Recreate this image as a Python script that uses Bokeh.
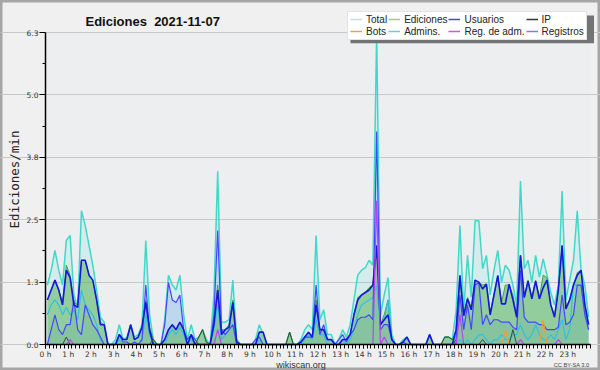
from math import pi
from bokeh.plotting import figure
from bokeh.models import (ColumnDataSource, FixedTicker, PrintfTickFormatter, Legend,
                          LegendItem, Label, Range1d, BoxAnnotation)
from bokeh.embed import file_html
from bokeh.resources import INLINE

# ---- data: edits per minute, 10-minute bins (6 per hour), 2021-11-07 ----
TOTAL = [
    1.2, 1.5, 1.9, 1.5, 1.2, 2.1,
    2.2, 1.0, 0.75, 2.7, 2.4, 2.0,
    1.6, 1.1, 0.55, 0.45, 0, 0,
    0.1, 0.4, 0.1, 0.15, 0.4, 0.15,
    0.2, 0.4, 2.1, 0.6, 0.1, 0,
    0, 0.5, 1.4, 1.2, 1.1, 1.4,
    0.6, 0.1, 0.4, 0.1, 0.15, 0.3,
    0.1, 0, 1.0, 3.5, 0.45, 0.45,
    0.5, 1.3, 0.1, 0, 0, 0,
    0, 0.1, 0.4, 0.2, 0, 0,
    0, 0, 0, 0, 0.25, 0,
    0, 0.1, 0.3, 0.4, 0.3, 2.2,
    0.5, 0.7, 0.2, 0.2, 0, 0.1,
    0.3, 0.15, 0.4, 0.9, 1.4, 1.5,
    1.55, 1.7, 1.6, 6.3, 0.6, 1.0,
    1.35, 0.2, 0, 0, 0.1, 0.15,
    0, 0, 0, 0, 0, 0.2,
    0, 0, 0, 0.15, 0.15, 0.1,
    0.69, 2.4, 0.68, 1.8, 0.95, 2.5,
    2.5, 1.53, 1.8, 1.0, 1.5, 1.9,
    1.26, 1.6, 1.5, 1.2, 0.8, 3.3,
    1.53, 1.7, 1.26, 1.8, 1.36, 1.73,
    1.4, 1.05, 0.8, 1.2, 3.1, 0.9,
    1.3, 1.7, 2.7, 1.5, 1.2, 0.55,
]

EDICIONES = [
    0.9, 1.1, 1.3, 1.1, 0.85, 1.6,
    1.4, 0.85, 0.8, 1.7, 1.7, 1.4,
    1.3, 0.9, 0.45, 0.4, 0, 0,
    0, 0.2, 0.1, 0.1, 0.4, 0.1,
    0.15, 0.35, 0.9, 0.35, 0.1, 0,
    0, 0.1, 0.3, 0.4, 0.3, 0.45,
    0.3, 0, 0.2, 0, 0.15, 0.3,
    0.05, 0, 0.5, 1.2, 0.3, 0.3,
    0.4, 0.9, 0.1, 0, 0, 0,
    0, 0, 0.25, 0.25, 0, 0,
    0, 0, 0, 0, 0.25, 0,
    0, 0.05, 0.15, 0.25, 0.15, 0.9,
    0.3, 0.3, 0.1, 0.1, 0, 0,
    0.1, 0.1, 0.2, 0.6, 0.95, 1.0,
    1.05, 1.15, 1.2, 2.0, 0.4, 0.6,
    0.9, 0.1, 0, 0, 0.05, 0.15,
    0, 0, 0, 0, 0, 0.2,
    0, 0, 0, 0.15, 0.15, 0.1,
    0.3, 1.4, 0.6, 0.95, 0.75, 1.3,
    1.25, 1.2, 1.22, 0.65, 1.0, 1.4,
    0.85, 1.2, 1.2, 1.0, 0.6, 1.8,
    0.95, 1.3, 0.95, 1.3, 0.95, 1.4,
    1.35, 0.8, 0.6, 1.1, 2.0, 0.75,
    0.9, 1.2, 1.45, 1.5, 0.85, 0.4,
]

USUARIOS = [
    0.9, 1.1, 1.3, 1.1, 0.8, 1.5,
    1.35, 0.8, 0.75, 1.7, 1.7, 1.4,
    1.3, 0.9, 0.4, 0.4, 0, 0,
    0, 0.2, 0.1, 0.1, 0.4, 0.1,
    0.15, 0.35, 0.85, 0.3, 0, 0,
    0, 0.1, 0.3, 0.4, 0.3, 0.45,
    0.3, 0, 0.2, 0, 0, 0,
    0, 0, 0.4, 1.1, 0.2, 0.3,
    0.35, 0.85, 0.05, 0, 0, 0,
    0, 0, 0.25, 0.25, 0, 0,
    0, 0, 0, 0, 0, 0,
    0, 0.05, 0.15, 0.25, 0.15, 0.8,
    0.3, 0.3, 0.1, 0.1, 0, 0,
    0.1, 0.1, 0.2, 0.6, 0.9, 1.0,
    1.05, 1.1, 1.2, 2.0, 0.4, 0.5,
    0.6, 0.1, 0, 0, 0.05, 0.15,
    0, 0, 0, 0, 0, 0.2,
    0, 0, 0, 0, 0, 0,
    0.3, 1.39, 0.58, 0.92, 0.7, 1.3,
    1.26, 1.12, 1.22, 0.6, 1.0, 1.39,
    0.82, 0.82, 1.22, 0.9, 0.55, 1.8,
    0.95, 1.28, 0.92, 1.28, 0.92, 1.15,
    1.3, 0.8, 0.55, 1.1, 2.0, 0.72,
    0.9, 1.2, 1.4, 1.5, 0.8, 0.4,
]

IP = [
    0, 0, 0, 0, 0, 0.15,
    0, 0, 0, 0, 0, 0,
    0, 0, 0, 0, 0, 0,
    0, 0, 0, 0, 0, 0,
    0, 0, 0, 0, 0.1, 0,
    0, 0, 0, 0, 0, 0,
    0, 0, 0, 0, 0.15, 0.3,
    0.05, 0, 0, 0, 0, 0,
    0, 0, 0, 0, 0, 0,
    0, 0, 0, 0, 0, 0,
    0, 0, 0, 0, 0.25, 0,
    0, 0, 0, 0, 0, 0,
    0, 0, 0, 0, 0, 0,
    0, 0, 0, 0, 0, 0,
    0, 0, 0, 0, 0, 0,
    0, 0, 0, 0, 0, 0,
    0, 0, 0, 0, 0, 0,
    0, 0, 0, 0.15, 0.15, 0.1,
    0, 0, 0, 0, 0, 0,
    0, 0.1, 0, 0, 0, 0,
    0, 0, 0, 0.3, 0, 0,
    0, 0, 0, 0, 0, 0,
    0, 0, 0, 0, 0, 0,
    0, 0, 0, 0, 0, 0,
]

BOTS = [0] * 121 + [0.3] + [0] * 9 + [0.5] + [0] * 12

ADMINS = [
    0.6, 0.8, 0.9, 0.8, 0.6, 0.75,
    0.6, 0.7, 0.5, 1.1, 0.8, 0.7,
    0.6, 0.4, 0.1, 0, 0, 0,
    0, 0.1, 0, 0, 0, 0,
    0, 0.1, 0.6, 0.2, 0, 0,
    0, 0, 0.2, 0.3, 0.2, 0.35,
    0.2, 0, 0.1, 0, 0, 0,
    0, 0, 0.3, 0.8, 0.1, 0.2,
    0.3, 0.8, 0, 0, 0, 0,
    0, 0, 0.1, 0, 0, 0,
    0, 0, 0, 0, 0, 0,
    0, 0, 0.1, 0.2, 0.1, 0.5,
    0.2, 0.2, 0, 0, 0, 0,
    0.1, 0, 0.1, 0.3, 0.6, 0.8,
    0.85, 0.9, 0.95, 1.2, 0.4, 0.5,
    0.9, 0.1, 0, 0, 0, 0,
    0, 0, 0, 0, 0, 0,
    0, 0, 0, 0, 0, 0,
    0, 0.1, 0, 0.1, 0, 0.1,
    0.2, 0.2, 0.1, 0, 0.1, 0.1,
    0.2, 0.1, 0.1, 0.2, 0.2, 0.4,
    0.2, 0.1, 0.2, 0.4, 0.2, 0.1,
    0.1, 0.2, 0.1, 0.3, 0.5, 0.1,
    0.3, 1.2, 1.2, 1.2, 0.7, 0.3,
]

REG_ADM = [0] * 144
for _i, _v in [(6, 0.1), (45, 0.3), (87, 2.9), (89, 0.15), (109, 0.6), (125, 0.1), (135, 0.1)]:
    REG_ADM[_i] = _v

REGISTROS = [
    0, 0.3, 0.6, 0.3, 0.2, 0.4,
    0.4, 0.9, 0.3, 0.2, 0.8, 0.6,
    0.4, 0.3, 0.15, 0, 0, 0,
    0, 0.2, 0.05, 0.05, 0, 0.05,
    0, 0.1, 1.2, 0.25, 0, 0,
    0, 0.4, 1.25, 0.9, 0.85, 1.0,
    0.3, 0.1, 0.2, 0.1, 0, 0,
    0, 0, 0.6, 2.3, 0.3, 0.2,
    0.3, 0.4, 0, 0, 0, 0,
    0, 0.1, 0.15, 0, 0, 0,
    0, 0, 0, 0, 0, 0,
    0, 0.05, 0.15, 0.15, 0.15, 1.2,
    0.2, 0.4, 0.1, 0.1, 0, 0.1,
    0.2, 0.05, 0.2, 0.3, 0.5, 0.55,
    0.55, 0.6, 0.5, 4.3, 0.3, 0.4,
    0.4, 0.1, 0, 0, 0.05, 0,
    0, 0, 0, 0, 0, 0,
    0, 0, 0, 0, 0, 0,
    0.1, 1.0, 0.3, 0.8, 0.3, 1.2,
    1.25, 0.4, 0.6, 0.4, 0.5, 0.5,
    0.45, 0.45, 0.45, 0.35, 0.3, 1.5,
    0.55, 0.45, 0.45, 0.45, 0.4, 0.4,
    0.3, 0.3, 0.3, 0.35, 1.0, 0.4,
    0.45, 0.6, 1.2, 1.2, 0.6, 0.3,
]

Y_TICKS = [0, 1.26, 2.52, 3.78, 5.04, 6.3]
Y_MAX = 6.3
HOURS = 24
TITLE = "Ediciones \u00a02021-11-07"

# ---- layout (pixels): the frame covers the whole canvas, axes are pinned ----
W, H = 600, 370
PX_LEFT, PX_RIGHT, PX_TOP, PX_BOTTOM = 45, 590, 32, 344   # plot area in the picture
kx = (PX_RIGHT - PX_LEFT) / HOURS
ky = (PX_BOTTOM - PX_TOP) / Y_MAX
x_range = Range1d(-PX_LEFT / kx, (W - PX_LEFT) / kx)
y_range = Range1d(-(H - PX_BOTTOM) / ky, (PX_BOTTOM) / ky)


def sy(py):          # picture y (from top) -> frame screen y (from bottom)
    return H - py


x = [(i + 0.5) / 6 for i in range(len(TOTAL))]
src = ColumnDataSource(dict(x=x, total=TOTAL, ed=EDICIONES, us=USUARIOS, ip=IP,
                            bots=BOTS, adm=ADMINS, radm=REG_ADM, reg=REGISTROS))

p = figure(width=W, height=H, output_backend="svg", toolbar_location=None,
           x_range=x_range, y_range=y_range,
           min_border_left=0, min_border_right=0, min_border_top=0, min_border_bottom=0,
           background_fill_color="#f0f0f0", border_fill_color="#f0f0f0")
p.outline_line_color = "#a6a6a6"
p.outline_line_width = 4

# plot-area background
p.add_layout(BoxAnnotation(left=0, right=HOURS, bottom=0, top=Y_MAX, level="image",
                           fill_color="#edeef0", fill_alpha=1, line_color=None))

# fills
p.varea(x="x", y1=0, y2="total", source=src, fill_color="#40e0d0", fill_alpha=0.14)
p.varea(x="x", y1=0, y2="reg", source=src, fill_color="#5070ff", fill_alpha=0.17)
p.varea(x="x", y1=0, y2="ed", source=src, fill_color="#50b050", fill_alpha=0.5)

# lines
p.line("x", "total", source=src, line_color="#40d8c8", line_width=1.5)
p.line("x", "ed", source=src, line_color="#3fa33f", line_width=1)
p.line("x", "adm", source=src, line_color="#30c0e0", line_width=1.2)
p.line("x", "reg", source=src, line_color="#4646ff", line_width=1.2)
p.line("x", "us", source=src, line_color="#1616dc", line_width=1.6)
p.line("x", "ip", source=src, line_color="#3c4a3c", line_width=1)
p.line("x", "bots", source=src, line_color="#f0a030", line_width=1.2)
p.line("x", "radm", source=src, line_color="#c040f0", line_width=1.2)

# axes pinned at the data origin
minor_x = [k / 6 for k in range(0, HOURS * 6 + 1)]
p.xaxis.ticker = FixedTicker(ticks=list(range(HOURS)), minor_ticks=minor_x)
p.xaxis.formatter = PrintfTickFormatter(format="%d h")
p.yaxis.ticker = FixedTicker(ticks=Y_TICKS,
                             minor_ticks=[(a + b) / 2 for a, b in zip(Y_TICKS[:-1], Y_TICKS[1:])])
p.yaxis.formatter = PrintfTickFormatter(format="%.1f")
p.xaxis.fixed_location = 0
p.yaxis.fixed_location = 0
p.xaxis.bounds = (0, HOURS)
p.yaxis.bounds = (0, Y_MAX)
for ax in (p.xaxis[0], p.yaxis[0]):
    ax.axis_line_color = "black"
    ax.axis_line_width = 1.5
    ax.major_tick_line_color = "black"
    ax.minor_tick_line_color = "black"
    ax.major_tick_in = 0
    ax.minor_tick_in = 0
    ax.major_label_text_font = "DejaVu Sans"
    ax.major_label_text_font_size = "7.5px"
    ax.major_label_text_color = "#333333"
p.xaxis.major_tick_out = 4
p.xaxis.minor_tick_out = 4
p.xaxis.major_label_standoff = 1
p.yaxis.major_tick_out = 6
p.yaxis.minor_tick_out = 3
p.yaxis.major_label_standoff = 1

p.xgrid.visible = False
p.ygrid.grid_line_color = "#c8c8c8"
p.ygrid.grid_line_width = 1
p.ygrid.bounds = (0, HOURS)

# texts
p.add_layout(Label(x=85, y=sy(20.7), x_units="screen", y_units="screen",
                   text=TITLE, text_font="Liberation Sans",
                   text_font_style="bold", text_font_size="13px", text_color="#111111",
                   text_baseline="alphabetic", text_align="left"))
p.add_layout(Label(x=14, y=sy(179), x_units="screen", y_units="screen",
                   text="Ediciones/min", text_font="DejaVu Sans Mono", text_font_size="12.5px",
                   text_color="#222222", angle=pi / 2, text_align="center",
                   text_baseline="alphabetic"))
p.add_layout(Label(x=300.5, y=sy(364), x_units="screen", y_units="screen",
                   text="wikiscan.org", text_font="Liberation Sans", text_font_size="9px",
                   text_color="#333333", text_align="center", text_baseline="alphabetic"))
p.add_layout(Label(x=589, y=sy(364.7), x_units="screen", y_units="screen",
                   text="CC BY-SA 3.0", text_font="Liberation Sans", text_font_size="5.7px",
                   text_color="#444444", text_align="right", text_baseline="alphabetic"))

# legend (with a dark drop shadow)
p.add_layout(BoxAnnotation(left=350, right=593.5, top=sy(15), bottom=sy(42.7),
                           left_units="screen", right_units="screen",
                           top_units="screen", bottom_units="screen",
                           fill_color="#737373", fill_alpha=1, line_color=None))
legend_specs = [("Total", "#ade8e4"), ("Ediciones", "#8fd18f"), ("Usuarios", "#4848d8"),
                ("IP", "#353535"), ("Bots", "#f0a040"), ("Admins.", "#5ccfe0"),
                ("Reg. de adm.", "#cc55ee"), ("Registros", "#7c7cf4")]
items = []
for name, col in legend_specs:
    r = p.line(x=[float("nan")], y=[float("nan")], line_color=col, line_width=1.5)
    items.append(LegendItem(label=name, renderers=[r]))
leg = Legend(items=items, orientation="horizontal", ncols=4, location=(347, sy(39.5)),
             label_text_font="Liberation Sans", label_text_font_size="10px",
             label_text_color="#222222", glyph_width=12, glyph_height=10, label_height=10,
             label_standoff=4, spacing=1, padding=2, margin=0,
             border_line_color="#c8c8c8", border_line_width=1,
             background_fill_color="white", background_fill_alpha=1)
p.add_layout(leg)

open("out.html", "w").write(file_html(p, INLINE))
